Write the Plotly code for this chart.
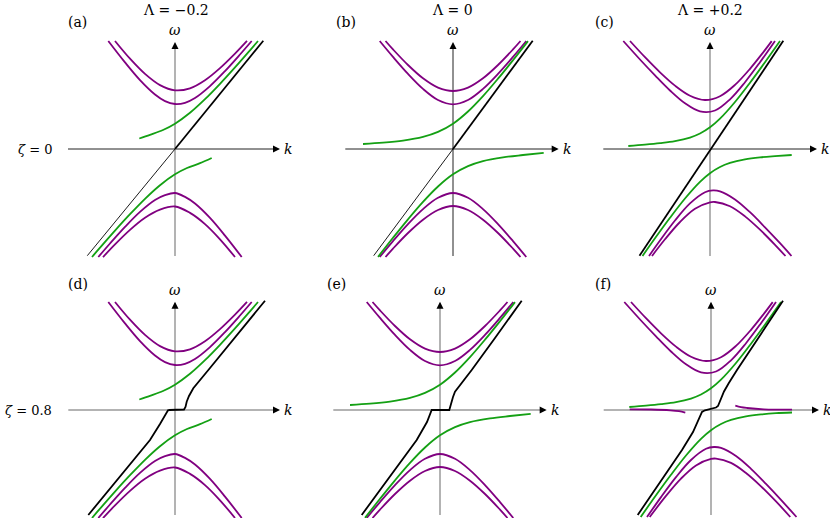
import plotly.graph_objects as go

PURPLE = "#800080"
GREEN = "#14a014"
BLACK = "#000000"
DARK = "#222222"
GREY = "#9a9a9a"
FONT = "DejaVu Serif, Liberation Serif, serif"

W, H = 830, 518

# ---- curves (k, omega), 1 unit = 100 px ----
# Lambda = -0.2 (panels a, d)
A_PURPLE_UP_HI = ([-0.60, -0.45, -0.30, -0.15, 0.0, 0.15, 0.30, 0.45, 0.60, 0.72],
                  [1.080, 0.903, 0.751, 0.639, 0.587, 0.607, 0.688, 0.809, 0.954, 1.081])
A_PURPLE_UP_LO = ([-0.667, -0.50, -0.35, -0.20, -0.10, 0.0, 0.10, 0.20, 0.35, 0.50, 0.65, 0.767],
                  [1.080, 0.866, 0.689, 0.545, 0.479, 0.450, 0.462, 0.510, 0.629, 0.779, 0.945, 1.080])
A_PURPLE_DN_IN = ([-0.767, -0.65, -0.50, -0.35, -0.20, -0.10, 0.0, 0.10, 0.20, 0.35, 0.50, 0.667],
                  [-1.080, -0.945, -0.779, -0.629, -0.510, -0.462, -0.440, -0.479, -0.545, -0.689, -0.866, -1.080])
A_PURPLE_DN_OUT = ([-0.72, -0.60, -0.45, -0.30, -0.15, 0.0, 0.15, 0.30, 0.45, 0.60],
                   [-1.081, -0.954, -0.809, -0.688, -0.607, -0.575, -0.639, -0.751, -0.903, -1.080])
A_GREEN_UP = ([-0.357, -0.25, -0.12, 0.0, 0.15, 0.30, 0.45, 0.60, 0.75, 0.83],
              [0.105, 0.142, 0.190, 0.253, 0.362, 0.498, 0.652, 0.816, 0.987, 1.080])
A_GREEN_DN = ([-0.83, -0.75, -0.60, -0.45, -0.30, -0.15, 0.0, 0.12, 0.25, 0.367],
              [-1.080, -0.987, -0.816, -0.652, -0.498, -0.362, -0.253, -0.190, -0.142, -0.090])
A_LIGHT = ([-0.877, 0.0], [-1.067, 0.0])
A_BLACK = ([0.0, 0.883], [0.0, 1.083])

# Lambda = 0 (panels b, e)
B_PURPLE_UP_HI = ([-0.675, -0.60, -0.45, -0.30, -0.15, 0.0, 0.15, 0.30, 0.45, 0.60, 0.675],
                  [1.080, 0.996, 0.840, 0.707, 0.614, 0.580, 0.614, 0.707, 0.840, 0.996, 1.080])
B_PURPLE_UP_LO = ([-0.733, -0.60, -0.45, -0.30, -0.15, 0.0, 0.15, 0.30, 0.45, 0.60, 0.733],
                  [1.080, 0.921, 0.751, 0.601, 0.490, 0.447, 0.490, 0.601, 0.751, 0.921, 1.080])
B_PURPLE_DN_IN = ([-0.733, -0.60, -0.45, -0.30, -0.15, 0.0, 0.15, 0.30, 0.45, 0.60, 0.733],
                  [-1.080, -0.921, -0.751, -0.601, -0.488, -0.440, -0.488, -0.601, -0.751, -0.921, -1.080])
B_PURPLE_DN_OUT = ([-0.675, -0.60, -0.45, -0.30, -0.15, 0.0, 0.15, 0.30, 0.45, 0.60, 0.675],
                   [-1.080, -0.996, -0.840, -0.707, -0.610, -0.570, -0.610, -0.707, -0.840, -0.996, -1.080])
B_GREEN_UP = ([-0.90, -0.70, -0.50, -0.30, -0.15, 0.0, 0.15, 0.30, 0.45, 0.60, 0.75],
              [0.050, 0.063, 0.084, 0.121, 0.171, 0.253, 0.375, 0.529, 0.703, 0.888, 1.079])
B_GREEN_DN = ([-0.75, -0.60, -0.45, -0.30, -0.15, 0.0, 0.15, 0.30, 0.50, 0.70, 0.907],
              [-1.079, -0.888, -0.703, -0.529, -0.375, -0.253, -0.171, -0.121, -0.084, -0.060, -0.038])
B_LIGHT = ([-0.793, 0.0], [-1.067, 0.0])
B_BLACK = ([0.0, 0.797], [0.0, 1.083])

# Lambda = +0.2 (panels c, f)
C_PURPLE_UP_HI = ([-0.80, -0.65, -0.50, -0.35, -0.20, -0.05, 0.10, 0.25, 0.40, 0.52, 0.617],
                  [1.080, 0.918, 0.767, 0.634, 0.533, 0.490, 0.528, 0.641, 0.802, 0.951, 1.079])
C_PURPLE_UP_LO = ([-0.867, -0.70, -0.55, -0.40, -0.25, -0.10, 0.05, 0.20, 0.35, 0.50, 0.65],
                  [1.080, 0.895, 0.736, 0.585, 0.457, 0.376, 0.385, 0.497, 0.668, 0.868, 1.081])
C_PURPLE_DN_IN = ([-0.61, -0.50, -0.35, -0.20, -0.05, 0.03, 0.10, 0.25, 0.40, 0.55, 0.70, 0.815],
                  [-1.070, -0.915, -0.715, -0.544, -0.432, -0.414, -0.423, -0.504, -0.632, -0.783, -0.942, -1.070])
C_PURPLE_DN_OUT = ([-0.58, -0.45, -0.30, -0.15, 0.0, 0.05, 0.20, 0.35, 0.50, 0.65, 0.755],
                   [-1.070, -0.903, -0.730, -0.598, -0.533, -0.530, -0.573, -0.674, -0.807, -0.958, -1.070])
C_GREEN_UP = ([-0.817, -0.65, -0.50, -0.35, -0.20, -0.10, 0.0, 0.10, 0.25, 0.40, 0.55, 0.70],
              [0.030, 0.044, 0.059, 0.079, 0.1145, 0.155, 0.217, 0.3035, 0.470, 0.663, 0.868, 1.080])
C_GREEN_DN = ([-0.675, -0.55, -0.40, -0.25, -0.10, 0.0, 0.10, 0.20, 0.35, 0.50, 0.65, 0.817],
              [-1.070, -0.893, -0.688, -0.495, -0.3285, -0.242, -0.180, -0.1395, -0.104, -0.084, -0.0715, -0.060])
C_BLACK = ([-0.705, 0.733], [-1.067, 1.083])

# zeta = 0.8, bottom row black branches
D_BLACK = ([-0.867, -0.60, -0.40, -0.25, -0.15, -0.10, -0.085, -0.07, -0.055, 0.08, 0.09, 0.105,
            0.117, 0.14, 0.183, 0.35, 0.60, 0.90],
           [-1.05, -0.725, -0.48, -0.30, -0.14, -0.055, -0.02, -0.003, 0.0, 0.0, 0.005, 0.03,
            0.083, 0.14, 0.217, 0.42, 0.725, 1.093])
E_BLACK = ([-0.783, -0.50, -0.233, -0.13, -0.10, -0.09, -0.083, 0.093, 0.10, 0.11, 0.13, 0.15,
            0.317, 0.55, 0.817],
           [-1.05, -0.665, -0.30, -0.12, -0.05, -0.02, 0.0, 0.0, 0.03, 0.075, 0.13, 0.183,
            0.40, 0.72, 1.093])
F_BLACK = ([-0.733, -0.50, -0.29, -0.18, -0.12, -0.09, -0.06, 0.0, 0.05, 0.07, 0.093, 0.13,
            0.177, 0.26, 0.50, 0.72],
           [-1.05, -0.71, -0.40, -0.22, -0.08, -0.02, -0.003, 0.01, 0.025, 0.04, 0.10, 0.185,
            0.267, 0.40, 0.76, 1.093])
F_PURPLE_LEFT = ([-0.813, -0.60, -0.407, -0.32, -0.257], [0.007, 0.005, -0.003, -0.012, -0.027])
F_PURPLE_RIGHT = ([0.243, 0.30, 0.36, 0.527, 0.81], [0.043, 0.028, 0.020, 0.007, 0.003])
F_PURPLE_DN_IN = ([-0.64, -0.50, -0.35, -0.20, -0.05, 0.03, 0.10, 0.25, 0.40, 0.55, 0.70, 0.80, 0.855],
                  [-1.07, -0.871, -0.671, -0.500, -0.388, -0.370, -0.379, -0.460, -0.588, -0.739,
                   -0.898, -1.009, -1.070])
F_PURPLE_DN_OUT = ([-0.613, -0.45, -0.30, -0.15, 0.0, 0.05, 0.20, 0.35, 0.50, 0.65, 0.793],
                   [-1.07, -0.859, -0.686, -0.554, -0.489, -0.486, -0.529, -0.630, -0.763, -0.914, -1.07])
F_GREEN_DN = ([-0.703, -0.55, -0.40, -0.25, -0.10, 0.0, 0.10, 0.20, 0.35, 0.50, 0.65, 0.81],
              [-1.07, -0.853, -0.648, -0.455, -0.2885, -0.202, -0.140, -0.0995, -0.064, -0.044,
               -0.0315, -0.025])

COL_TITLES = ["Λ = −0.2", "Λ = 0", "Λ = +0.2"]
ROW_TITLES = ["<i>ζ</i> = 0", "<i>ζ</i> = 0.8"]

# ---- panel layout (pixels) ----
PANELS = [
    dict(tag="(a)", ox=175, oy=149, dx=(60, 290), dy=(30, 262), h=(-1.07, 1.05), v=(-1.07, 1.07),
         hcol=DARK, vcol=GREY,
         curves=[(A_PURPLE_UP_HI, PURPLE, 1.8), (A_PURPLE_UP_LO, PURPLE, 1.8),
                 (A_PURPLE_DN_IN, PURPLE, 1.8), (A_PURPLE_DN_OUT, PURPLE, 1.8),
                 (A_GREEN_UP, GREEN, 1.8), (A_GREEN_DN, GREEN, 1.8),
                 (A_LIGHT, BLACK, 0.9), (A_BLACK, BLACK, 1.8)]),
    dict(tag="(b)", ox=453, oy=149, dx=(335, 570), dy=(30, 262), h=(-1.077, 1.057), v=(-1.07, 1.07),
         hcol=DARK, vcol=DARK,
         curves=[(B_PURPLE_UP_HI, PURPLE, 1.8), (B_PURPLE_UP_LO, PURPLE, 1.8),
                 (B_PURPLE_DN_IN, PURPLE, 1.8), (B_PURPLE_DN_OUT, PURPLE, 1.8),
                 (B_GREEN_UP, GREEN, 1.8), (B_GREEN_DN, GREEN, 1.8),
                 (B_LIGHT, BLACK, 0.9), (B_BLACK, BLACK, 1.8)]),
    dict(tag="(c)", ox=710, oy=149, dx=(595, 830), dy=(30, 262), h=(-1.067, 1.07), v=(-1.07, 1.07),
         hcol=DARK, vcol=GREY,
         curves=[(C_PURPLE_UP_HI, PURPLE, 1.8), (C_PURPLE_UP_LO, PURPLE, 1.8),
                 (C_PURPLE_DN_IN, PURPLE, 1.8), (C_PURPLE_DN_OUT, PURPLE, 1.8),
                 (C_GREEN_UP, GREEN, 1.8), (C_GREEN_DN, GREEN, 1.8),
                 (C_BLACK, BLACK, 1.8)]),
    dict(tag="(d)", ox=175, oy=410, dx=(60, 290), dy=(296, 518), h=(-1.067, 1.05), v=(-1.05, 1.083),
         hcol=GREY, vcol=GREY,
         curves=[(A_PURPLE_UP_HI, PURPLE, 1.8), (A_PURPLE_UP_LO, PURPLE, 1.8),
                 (A_PURPLE_DN_IN, PURPLE, 1.8), (A_PURPLE_DN_OUT, PURPLE, 1.8),
                 (A_GREEN_UP, GREEN, 1.8), (A_GREEN_DN, GREEN, 1.8),
                 (D_BLACK, BLACK, 1.8)]),
    dict(tag="(e)", ox=440, oy=410, dx=(325, 560), dy=(296, 518), h=(-1.067, 1.067), v=(-1.05, 1.083),
         hcol=GREY, vcol=GREY,
         curves=[(B_PURPLE_UP_HI, PURPLE, 1.8), (B_PURPLE_UP_LO, PURPLE, 1.8),
                 (B_PURPLE_DN_IN, PURPLE, 1.8), (B_PURPLE_DN_OUT, PURPLE, 1.8),
                 (B_GREEN_UP, GREEN, 1.8), (B_GREEN_DN, GREEN, 1.8),
                 (E_BLACK, BLACK, 1.8)]),
    dict(tag="(f)", ox=711, oy=410, dx=(595, 830), dy=(296, 518), h=(-1.073, 1.08), v=(-1.05, 1.083),
         hcol=GREY, vcol=GREY,
         curves=[(C_PURPLE_UP_HI, PURPLE, 1.8), (C_PURPLE_UP_LO, PURPLE, 1.8),
                 (F_PURPLE_DN_IN, PURPLE, 1.8), (F_PURPLE_DN_OUT, PURPLE, 1.8),
                 (C_GREEN_UP, GREEN, 1.8), (F_GREEN_DN, GREEN, 1.8),
                 (F_PURPLE_LEFT, PURPLE, 1.8), (F_PURPLE_RIGHT, PURPLE, 1.8),
                 (F_BLACK, BLACK, 1.8)]),
]

fig = go.Figure()
shapes, annotations = [], []
txt = dict(family=FONT, size=14, color="black")

for i, p in enumerate(PANELS, start=1):
    sfx = "" if i == 1 else str(i)
    xa, ya = "x" + sfx, "y" + sfx
    ox, oy = p["ox"], p["oy"]
    fig.layout["xaxis" + sfx] = dict(domain=[p["dx"][0] / W, p["dx"][1] / W],
                                     range=[(p["dx"][0] - ox) / 100, (p["dx"][1] - ox) / 100],
                                     visible=False, anchor=ya, fixedrange=True)
    fig.layout["yaxis" + sfx] = dict(domain=[1 - p["dy"][1] / H, 1 - p["dy"][0] / H],
                                     range=[(oy - p["dy"][1]) / 100, (oy - p["dy"][0]) / 100],
                                     visible=False, anchor=xa, fixedrange=True)

    # axes lines
    h0, h1 = p["h"]
    v0, v1 = p["v"]
    shapes.append(dict(type="line", xref=xa, yref=ya, x0=h0, x1=h1 - 0.03, y0=0, y1=0,
                       line=dict(color=p["hcol"], width=1 if p["hcol"] == DARK else 1.5), layer="below"))
    shapes.append(dict(type="line", xref=xa, yref=ya, x0=0, x1=0, y0=v0, y1=v1 - 0.03,
                       line=dict(color=p["vcol"], width=1 if p["vcol"] == DARK else 1.5), layer="below"))
    annotations.append(dict(xref=xa, yref=ya, x=h1, y=0, ax=-7, ay=0, text="", showarrow=True,
                            arrowhead=2, arrowsize=1.4, arrowwidth=1, arrowcolor="black", standoff=0))
    annotations.append(dict(xref=xa, yref=ya, x=0, y=v1, ax=0, ay=7, text="", showarrow=True,
                            arrowhead=2, arrowsize=1.4, arrowwidth=1, arrowcolor="black", standoff=0))
    annotations.append(dict(xref=xa, yref=ya, x=h1 + 0.02, y=0, text="<i>k</i>", showarrow=False,
                            xanchor="left", yanchor="middle", font=txt))
    annotations.append(dict(xref=xa, yref=ya, x=0, y=v1 + 0.02, text="<i>ω</i>", showarrow=False,
                            xanchor="center", yanchor="bottom", font=txt))
    # panel tag
    tag_x = {1: 77, 2: 346, 3: 604, 4: 78, 5: 336, 6: 603}[i]
    tag_y = 22 if i <= 3 else 284
    annotations.append(dict(xref="paper", yref="paper", x=tag_x / W, y=1 - tag_y / H, text=p["tag"],
                            showarrow=False, xanchor="center", yanchor="middle", font=txt))

    for (k, w), col, lw in p["curves"]:
        shape = "linear" if len(k) == 2 or col == BLACK else "spline"
        fig.add_trace(go.Scatter(x=k, y=w, mode="lines", xaxis=xa, yaxis=ya,
                                 line=dict(color=col, width=lw, shape=shape),
                                 hoverinfo="skip", showlegend=False))

for title, cx in zip(COL_TITLES, [176, 452, 710]):
    annotations.append(dict(xref="paper", yref="paper", x=cx / W, y=1 - 10 / H, text=title,
                            showarrow=False, xanchor="center", yanchor="middle", font=txt))
row_txt = dict(family=FONT, size=13, color="black")
for title, cy in zip(ROW_TITLES, [149, 410]):
    annotations.append(dict(xref="paper", yref="paper", x=54 / W, y=1 - cy / H, text=title,
                            showarrow=False, xanchor="right", yanchor="middle", font=row_txt))

fig.update_layout(width=W, height=H, margin=dict(l=0, r=0, t=0, b=0), autosize=False,
                  paper_bgcolor="white", plot_bgcolor="white", showlegend=False,
                  shapes=shapes, annotations=annotations)

fig.write_html("out.html", config={"displayModeBar": False},
               post_script="document.body.style.margin='0';")
